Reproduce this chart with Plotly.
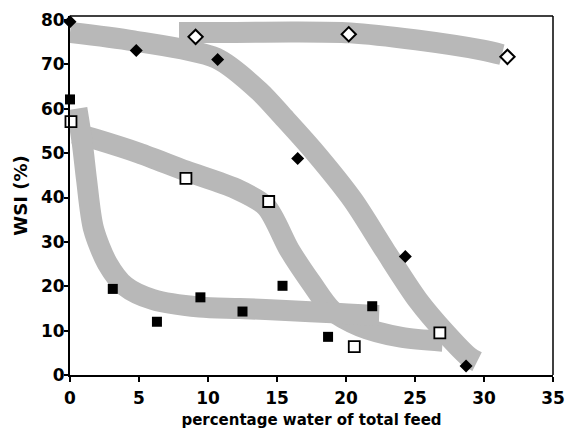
import plotly.graph_objects as go

# ---- data ----
filled_diamond_x = [0.0, 4.8, 10.7, 16.5, 24.3, 28.7]
filled_diamond_y = [79.6, 73.1, 71.1, 48.8, 26.7, 2.0]

open_diamond_x = [9.1, 20.2, 31.7]
open_diamond_y = [76.2, 76.8, 71.7]

filled_square_x = [0.0, 3.1, 6.3, 9.45, 12.5, 15.4, 18.7, 21.9]
filled_square_y = [62.1, 19.4, 12.0, 17.5, 14.3, 20.1, 8.6, 15.5]

open_square_x = [0.07, 8.4, 14.4, 20.6, 26.8]
open_square_y = [57.1, 44.3, 39.1, 6.4, 9.5]

# shaded guide bands (hand-drawn trend bands in the original)
band_top_x = [7.9, 12.0, 16.0, 20.3, 25.1, 29.9, 31.3]
band_top_y = [77.2, 77.2, 77.3, 77.1, 75.5, 73.2, 72.2]

band_diamond_x = [0.0, 4.6, 10.6, 13.7, 15.5, 17.6, 20.5, 22.8, 25.2, 27.2, 28.9, 29.5]
band_diamond_y = [77.2, 75.3, 71.4, 64.0, 58.0, 50.7, 39.4, 28.2, 16.9, 9.5, 4.1, 3.0]

band_osq_x = [0.3, 2.0, 5.0, 8.4, 12.0, 14.2, 15.9, 17.5, 19.0, 21.0, 24.0, 27.0]
band_osq_y = [54.5, 53.0, 50.0, 46.0, 42.0, 38.0, 28.2, 20.7, 14.5, 11.0, 8.5, 7.6]

band_fsq_x = [0.5, 0.9, 1.2, 1.7, 2.7, 4.0, 6.0, 9.4, 12.3, 16.0, 19.0, 21.5, 22.4]
band_fsq_y = [60.0, 52.0, 44.0, 33.0, 25.2, 20.0, 17.0, 15.3, 15.0, 14.5, 14.0, 13.5, 13.4]

x_ticks = [0, 5, 10, 15, 20, 25, 30, 35]
y_ticks = [0, 10, 20, 30, 40, 50, 60, 70, 80]

BAND = "#b8b8b8"
FONT = "DejaVu Sans"

fig = go.Figure()

for bx, by in [(band_top_x, band_top_y), (band_diamond_x, band_diamond_y),
               (band_osq_x, band_osq_y), (band_fsq_x, band_fsq_y)]:
    fig.add_trace(go.Scatter(x=bx, y=by, mode="lines",
                             line=dict(color=BAND, width=21, shape="spline", smoothing=0.8),
                             hoverinfo="skip", showlegend=False))

fig.add_trace(go.Scatter(x=filled_diamond_x, y=filled_diamond_y, mode="markers",
                         marker=dict(symbol="diamond", size=10, color="black"),
                         cliponaxis=False, showlegend=False))
fig.add_trace(go.Scatter(x=open_diamond_x, y=open_diamond_y, mode="markers",
                         marker=dict(symbol="diamond", size=11, color="white",
                                     line=dict(color="black", width=2)),
                         cliponaxis=False, showlegend=False))
fig.add_trace(go.Scatter(x=filled_square_x, y=filled_square_y, mode="markers",
                         marker=dict(symbol="square", size=10, color="black"),
                         cliponaxis=False, showlegend=False))
fig.add_trace(go.Scatter(x=open_square_x, y=open_square_y, mode="markers",
                         marker=dict(symbol="square", size=11, color="white",
                                     line=dict(color="black", width=1.8)),
                         cliponaxis=False, showlegend=False))

fig.update_layout(
    width=568, height=429,
    margin=dict(l=70, r=15, t=16, b=54),
    paper_bgcolor="white", plot_bgcolor="white",
    font=dict(family=FONT, color="black", size=16),
    xaxis=dict(range=[0, 35], tickvals=x_ticks, ticks="outside", ticklen=5,
               tickwidth=2, tickcolor="black", showgrid=False, zeroline=False,
               showline=True, linecolor="black", linewidth=2, automargin=False,
               ticklabelstandoff=2,
               tickfont=dict(family=FONT, size=17, weight="bold"),
               title=dict(text="percentage water of total feed",
                          font=dict(family=FONT, size=15, weight="bold"), standoff=12)),
    yaxis=dict(range=[0, 80.9], tickvals=y_ticks, ticks="outside", ticklen=4,
               tickwidth=2, tickcolor="black", showgrid=False, zeroline=False,
               showline=True, linecolor="black", linewidth=2, automargin=False,
               ticklabelstandoff=-4,
               tickfont=dict(family=FONT, size=17, weight="bold"),
               title=dict(text="WSI (%)",
                          font=dict(family=FONT, size=18, weight="bold"), standoff=9)),
    shapes=[dict(type="line", xref="paper", yref="paper", x0=0, x1=1, y0=1, y1=1,
                 line=dict(color="black", width=1.5)),
            dict(type="line", xref="paper", yref="paper", x0=1, x1=1, y0=0, y1=1,
                 line=dict(color="black", width=1.5))],
)

# remove the default 8px page margin so the figure fills the window exactly
fig.write_html("out.html", config={"displayModeBar": False},
               post_script="document.body.style.margin='0';document.body.style.overflow='hidden';")
